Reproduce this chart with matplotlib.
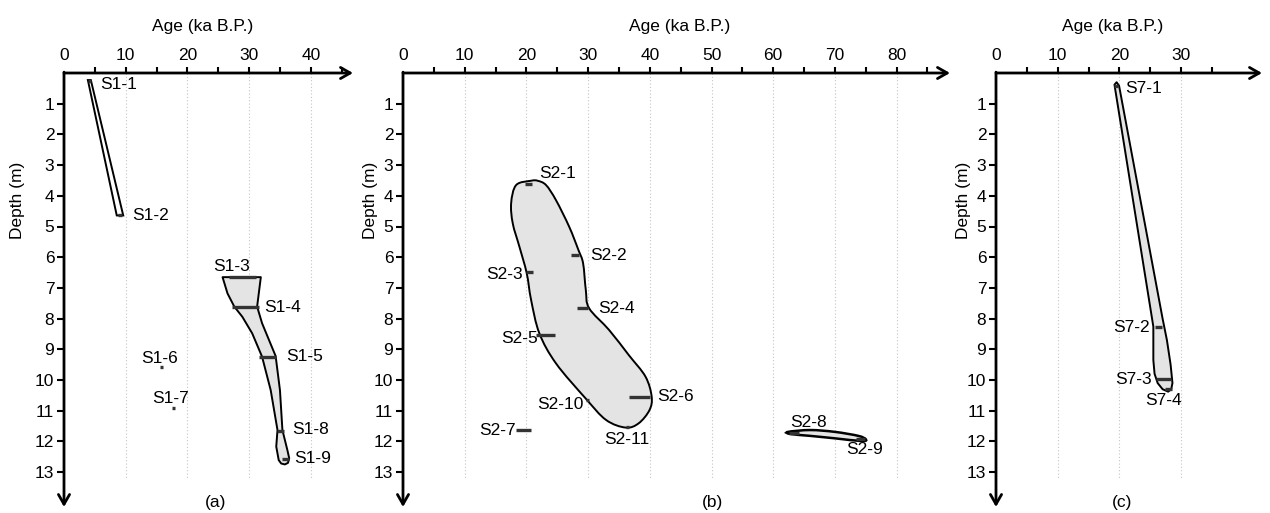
import numpy as np
import matplotlib.pyplot as plt
from matplotlib.path import Path
from matplotlib.patches import PathPatch

plt.rcParams['font.family'] = ['Liberation Sans', 'DejaVu Sans']

W, H = 1270, 513

# ---- panel (a): section S1 ----
s1_names = ['S1-1', 'S1-2', 'S1-3', 'S1-4', 'S1-5', 'S1-6', 'S1-7', 'S1-8', 'S1-9']
s1_depth = [0.25, 4.64, 6.65, 7.63, 9.24, 9.58, 10.9, 11.66, 12.57]
s1_age_lo = [3.9, 8.8, 26.8, 27.3, 31.6, 15.6, 17.5, 34.5, 35.3]
s1_age_hi = [4.3, 9.4, 31.1, 31.6, 34.3, 16.1, 18.0, 35.6, 36.5]

# envelope S1-1..S1-2 (age, depth)
s1_env1_age = [3.87, 4.35, 9.6, 8.55]
s1_env1_depth = [0.23, 0.23, 4.64, 4.64]
# envelope S1-3..S1-9
s1_env2_age = [25.7, 31.9, 31.3, 32.1, 34.3, 35.0, 35.4, 36.2, 36.5, 36.3, 35.8, 35.2, 34.8,
               34.4, 34.6, 33.5, 32.1, 30.5, 28.9, 27.6, 26.5]
s1_env2_depth = [6.65, 6.65, 7.61, 8.15, 9.22, 10.33, 11.63, 12.28, 12.55, 12.7, 12.75, 12.72,
                 12.61, 12.17, 11.63, 10.33, 9.24, 8.48, 7.94, 7.61, 7.18]

# ---- panel (b): section S2 ----
s2_names = ['S2-1', 'S2-2', 'S2-3', 'S2-4', 'S2-5', 'S2-6', 'S2-7', 'S2-10', 'S2-11', 'S2-8', 'S2-9']
s2_depth = [3.63, 5.93, 6.49, 7.67, 8.53, 10.54, 11.63, 10.65, 11.52, 11.72, 11.93]
s2_age_lo = [19.7, 27.2, 20.0, 28.2, 21.6, 36.6, 18.3, 29.6, 36.1, 62.6, 73.5]
s2_age_hi = [20.9, 28.5, 21.0, 30.0, 24.7, 40.1, 20.8, 30.2, 36.6, 64.2, 74.8]

s2_env1_age = [20.76, 21.82, 23.18, 24.79, 26.94, 28.44, 29.19, 29.63, 30.16, 33.4, 36.6, 39.3,
               40.3, 39.95, 38.2, 36.1, 32.9, 29.6, 24.8, 22.1, 20.76, 20.05, 18.87, 17.79,
               17.53, 18.34]
s2_env1_depth = [3.51, 3.51, 3.65, 4.14, 5.01, 5.77, 6.20, 7.07, 7.66, 8.37, 9.19, 9.89,
                 10.54, 10.98, 11.41, 11.55, 11.30, 10.60, 9.46, 8.48, 7.39, 6.52, 5.66, 4.90,
                 4.24, 3.65]
s2_env2_age = [62.4, 66.0, 70.0, 73.8, 75.0, 74.4, 70.0, 66.0, 62.8]
s2_env2_depth = [11.69, 11.63, 11.69, 11.82, 11.93, 11.99, 11.9, 11.82, 11.76]

# ---- panel (c): section S7 ----
s7_names = ['S7-1', 'S7-2', 'S7-3', 'S7-4']
s7_depth = [0.42, 8.28, 9.98, 10.3]
s7_age_lo = [19.1, 25.8, 26.0, 27.4]
s7_age_hi = [19.8, 26.9, 28.3, 28.5]

s7_env_age = [19.2, 19.55, 19.95, 27.0, 27.7, 28.3, 28.6, 28.4, 27.9, 27.0, 26.2, 25.7,
              25.5, 25.5]
s7_env_depth = [0.38, 0.3, 0.42, 8.0, 8.7, 9.5, 10.1, 10.3, 10.38, 10.3, 10.1, 9.8,
                9.35, 8.26]

# label offsets in pixels (dx right, dy up) from bar centre
s1_lab = [(29, -4), (30, 0), (-11, 11), (37, 0), (37, 0), (-2, 9), (-3, 9), (30, 1), (27, 0)]
s2_lab = [(29, 11), (34, 0), (-25, -2), (34, 0), (-26, -4), (36, 0), (-26, 0), (-27, -5),
          (0, -13), (14, 10), (4, -10)]
s7_lab = [(28, -3), (-27, 0), (-30, 0), (-5, -11)]

fig = plt.figure(figsize=(W / 100, H / 100), dpi=100)
PX = 6.17   # px per ka
PY = 30.7   # px per m
TOP = 73
BOT = 507
FS = 12.5
FILL = '#e4e4e4'


def smooth_path(xs, ys):
    # closed Catmull-Rom outline drawn as cubic Bezier segments
    p = np.column_stack([xs, ys])
    n = len(p)
    verts = [p[0]]
    codes = [Path.MOVETO]
    for i in range(n):
        p0, p1, p2, p3 = p[i - 1], p[i], p[(i + 1) % n], p[(i + 2) % n]
        verts += [p1 + (p2 - p0) / 6, p2 - (p3 - p1) / 6, p2]
        codes += [Path.CURVE4] * 3
    return Path(verts, codes)


def make_axes(left, right, major):
    ax = fig.add_axes([left / W, 1 - BOT / H, (right - left) / W, (BOT - TOP) / H])
    ax.set_xlim(0, (right - left) / PX)
    ax.set_ylim((BOT - TOP) / PY, 0)
    for s in ax.spines.values():
        s.set_visible(False)
    ax.xaxis.tick_top()
    ax.set_xticks(major)
    ax.set_xticks([m + 5 for m in major], minor=True)
    ax.tick_params(axis='x', which='both', direction='out', length=4, width=1.5,
                   pad=3, labelsize=FS)
    ax.xaxis.get_major_ticks()[0].tick2line.set_visible(False)
    ax.set_yticks(range(1, 14))
    ax.tick_params(axis='y', length=5, width=1.5, pad=2, labelsize=FS)
    arrow = dict(arrowstyle='->,head_length=0.7,head_width=0.4', lw=2, color='black',
                 shrinkA=0, shrinkB=0)
    ax.annotate('', xy=(1, 1), xytext=(0, 1), xycoords='axes fraction',
                arrowprops=arrow, annotation_clip=False)
    ax.annotate('', xy=(0, 0), xytext=(0, 1.002), xycoords='axes fraction',
                arrowprops=arrow, annotation_clip=False)
    ax.vlines(major[1:], 0, 13.2, colors='#c4c4c4', linestyles=(0, (1, 2)), lw=0.8, zorder=0)
    return ax


def draw_samples(ax, names, depth, lo, hi, offs):
    ax.hlines(depth, lo, hi, colors='#333333', lw=2.4, zorder=4)
    for nm, d, a, b, (dx, dy) in zip(names, depth, lo, hi, offs):
        ax.annotate(nm, xy=((a + b) / 2, d), xytext=(dx, dy), textcoords='offset pixels',
                    ha='center', va='center', fontsize=FS, zorder=5)


def fig_text(x, y, s, **kw):
    fig.text(x / W, 1 - y / H, s, ha='center', va='center', fontsize=FS, **kw)


# (a)
ax = make_axes(64, 353, [0, 10, 20, 30, 40])
ax.fill(s1_env1_age, s1_env1_depth, facecolor='white', edgecolor='black', lw=1.4, zorder=2)
ax.fill(s1_env2_age, s1_env2_depth, facecolor=FILL, edgecolor='black', lw=1.4,
        joinstyle='round', zorder=2)
draw_samples(ax, s1_names, s1_depth, s1_age_lo, s1_age_hi, s1_lab)

# (b)
ax = make_axes(403, 950, [0, 10, 20, 30, 40, 50, 60, 70, 80])
ax.add_patch(PathPatch(smooth_path(s2_env1_age, s2_env1_depth), facecolor=FILL,
                       edgecolor='black', lw=1.4, zorder=2))
ax.add_patch(PathPatch(smooth_path(s2_env2_age, s2_env2_depth), facecolor=FILL,
                       edgecolor='black', lw=1.8, zorder=2))
draw_samples(ax, s2_names, s2_depth, s2_age_lo, s2_age_hi, s2_lab)

# (c)
ax = make_axes(996, 1262, [0, 10, 20, 30])
ax.fill(s7_env_age, s7_env_depth, facecolor=FILL, edgecolor='black', lw=1.4,
        joinstyle='round', zorder=2)
draw_samples(ax, s7_names, s7_depth, s7_age_lo, s7_age_hi, s7_lab)

for x in [203, 680, 1113]:
    fig_text(x, 26, 'Age (ka B.P.)')
for x in [18, 370, 963]:
    fig_text(x, 200, 'Depth (m)', rotation=90)
for x, s in [(216, '(a)'), (712, '(b)'), (1122, '(c)')]:
    fig_text(x, 502, s)

fig.savefig('out.png', dpi=100)
